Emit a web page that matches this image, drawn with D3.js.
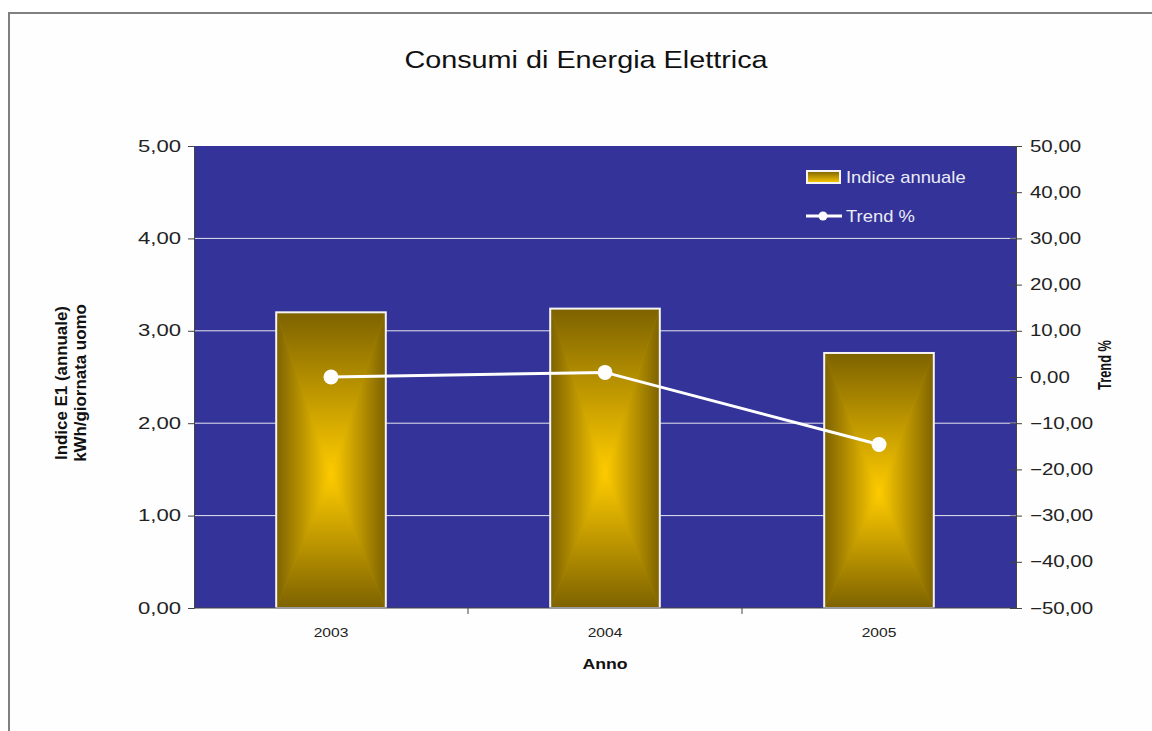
<!DOCTYPE html>
<html>
<head>
<meta charset="utf-8">
<script src="https://cdn.jsdelivr.net/npm/d3@7"></script>
<style>
  html, body { margin: 0; padding: 0; background: #ffffff; }
  svg { display: block; font-family: Arial, "Liberation Sans", sans-serif; }
</style>
</head>
<body>
<svg id="chart" width="1152" height="731"></svg>
<script>
// Annual electricity consumption index and year-on-year trend
const years = ["2003", "2004", "2005"];
const indiceAnnuale = [3.20, 3.24, 2.76];   // kWh / giornata uomo
const trendPct = [0.00, 1.00, -14.60];      // %
const leftTicks = [0, 1, 2, 3, 4, 5];
const rightTicks = [-50, -40, -30, -20, -10, 0, 10, 20, 30, 40, 50];

const svg = d3.select("#chart");
const plot = { left: 194, right: 1016, top: 146, bottom: 608 };
const FONT = "Arial, 'Liberation Sans', sans-serif";

const fmt = v => d3.format(".2f")(v).replace(".", ",");

// text with a wide (horizontally stretched) face
function wideText(parent, x, y, sx, sy, rot) {
  return parent.append("text")
    .attr("transform", `translate(${x},${y})` + (rot ? ` rotate(${rot})` : "") + ` scale(${sx},${sy})`)
    .attr("font-family", FONT);
}

// outer chart frame
svg.append("rect")
  .attr("x", 9).attr("y", 13).attr("width", 1300).attr("height", 900)
  .attr("fill", "#fefefe").attr("stroke", "#808080").attr("stroke-width", 2);

// title
wideText(svg, 586, 68, 1.2, 1)
  .attr("text-anchor", "middle").attr("font-size", 24).attr("fill", "#111")
  .text("Consumi di Energia Elettrica");

const x = d3.scaleBand().domain(years).range([plot.left, plot.right]).paddingInner(0.6).paddingOuter(0.3);
const yL = d3.scaleLinear().domain([0, 5]).range([plot.bottom, plot.top]);
const yR = d3.scaleLinear().domain([-50, 50]).range([plot.bottom, plot.top]);

// plot background
svg.append("rect")
  .attr("x", plot.left).attr("y", plot.top)
  .attr("width", plot.right - plot.left).attr("height", plot.bottom - plot.top)
  .attr("fill", "#333399");

// gridlines
svg.append("g").selectAll("line")
  .data(leftTicks.filter(d => d > 0 && d < 5))
  .join("line")
  .attr("x1", plot.left).attr("x2", plot.right)
  .attr("y1", d => yL(d)).attr("y2", d => yL(d))
  .attr("stroke", "#e6e6f0").attr("stroke-width", 1);

// gradients for the bar fill (rectangular "from center" effect)
const defs = svg.append("defs");
const dark = "#7d6200", bright = "#ffcc00";
function grad(id, x1, y1, x2, y2, c1, c2) {
  const g = defs.append("linearGradient").attr("id", id)
    .attr("x1", x1).attr("y1", y1).attr("x2", x2).attr("y2", y2);
  g.append("stop").attr("offset", "0%").attr("stop-color", c1);
  g.append("stop").attr("offset", "100%").attr("stop-color", c2);
}
grad("gTop", 0, 0, 0, 1, dark, bright);
grad("gBot", 0, 0, 0, 1, bright, dark);
grad("gLeft", 0, 0, 1, 0, dark, bright);
grad("gRight", 0, 0, 1, 0, bright, dark);

const bars = svg.append("g");
years.forEach((yr, i) => {
  const x0 = x(yr), x1 = x(yr) + x.bandwidth();
  const y0 = yL(indiceAnnuale[i]), y1 = yL(0);
  const cx = (x0 + x1) / 2, cy = y0 + (y1 - y0) * 0.55;
  const g = bars.append("g");
  g.append("rect").attr("x", x0).attr("y", y0).attr("width", x1 - x0).attr("height", y1 - y0)
    .attr("fill", "#c9a000");
  const tri = (pts, fill) => g.append("polygon")
    .attr("points", pts.map(p => p.join(",")).join(" "))
    .attr("fill", fill).attr("stroke", fill).attr("stroke-width", 0.4);
  tri([[x0, y0], [x1, y0], [cx, cy]], "url(#gTop)");
  tri([[x0, y1], [x1, y1], [cx, cy]], "url(#gBot)");
  tri([[x0, y0], [cx, cy], [x0, y1]], "url(#gLeft)");
  tri([[x1, y0], [cx, cy], [x1, y1]], "url(#gRight)");
  g.append("rect").attr("x", x0).attr("y", y0).attr("width", x1 - x0).attr("height", y1 - y0)
    .attr("fill", "none").attr("stroke", "#f4f4f4").attr("stroke-width", 2);
});

// trend line
const line = d3.line().x((d, i) => x(years[i]) + x.bandwidth() / 2).y(d => yR(d));
svg.append("path").datum(trendPct)
  .attr("d", line).attr("fill", "none").attr("stroke", "#ffffff").attr("stroke-width", 3);
svg.append("g").selectAll("circle").data(trendPct).join("circle")
  .attr("cx", (d, i) => x(years[i]) + x.bandwidth() / 2)
  .attr("cy", d => yR(d)).attr("r", 7.5).attr("fill", "#ffffff");

// left axis
const sxL = 1.38;
const axL = svg.append("g").attr("transform", `translate(${plot.left},0)`)
  .call(d3.axisLeft(yL).tickValues(leftTicks).tickFormat(fmt).tickSize(6).tickPadding(7));
axL.select(".domain").attr("stroke", "#444");
axL.selectAll(".tick line").attr("stroke", "#444");
axL.selectAll(".tick text")
  .attr("font-size", 16).attr("fill", "#222").attr("font-family", FONT)
  .attr("x", -13 / sxL).attr("transform", `scale(${sxL},1)`);

// right axis (ticks cross the axis line)
const sxR = 1.28;
const axR = svg.append("g").attr("transform", `translate(${plot.right},0)`)
  .call(d3.axisRight(yR).tickValues(rightTicks).tickFormat(fmt).tickSize(6).tickPadding(8));
axR.select(".domain").attr("stroke", "#444");
axR.selectAll(".tick line").attr("stroke", "#444").attr("x1", -6);
axR.selectAll(".tick text")
  .attr("font-size", 16).attr("fill", "#222").attr("font-family", FONT)
  .attr("x", 14 / sxR).attr("transform", `scale(${sxR},1)`);

// bottom axis with category-separator ticks
const bottom = svg.append("g");
bottom.append("line").attr("x1", plot.left).attr("x2", plot.right)
  .attr("y1", plot.bottom).attr("y2", plot.bottom).attr("stroke", "#444");
d3.range(1, years.length).forEach(k => {
  const xb = plot.left + (plot.right - plot.left) * k / years.length;
  bottom.append("line").attr("x1", xb).attr("x2", xb)
    .attr("y1", plot.bottom).attr("y2", plot.bottom + 6).attr("stroke", "#444");
});
years.forEach(d => {
  wideText(bottom, x(d) + x.bandwidth() / 2, 637, 1.2, 1)
    .attr("text-anchor", "middle").attr("font-size", 13).attr("fill", "#222")
    .text(d);
});

// axis titles
wideText(svg, 605, 669, 1.18, 1).attr("text-anchor", "middle")
  .attr("font-size", 15).attr("font-weight", "bold").attr("fill", "#111").text("Anno");

const yt = wideText(svg, 67, 383, 1.3, 1.2, -90)
  .attr("text-anchor", "middle").attr("font-size", 13).attr("font-weight", "bold").attr("fill", "#111");
yt.append("tspan").attr("x", 0).attr("dy", 0).text("Indice E1 (annuale)");
yt.append("tspan").attr("x", 0).attr("dy", 15.5).text("kWh/giornata uomo");

wideText(svg, 1111, 365, 0.92, 1.3, -90)
  .attr("text-anchor", "middle").attr("font-size", 14).attr("font-weight", "bold").attr("fill", "#111")
  .text("Trend %");

// legend
const lg = svg.append("g");
lg.append("rect").attr("x", 807).attr("y", 171).attr("width", 33).attr("height", 12)
  .attr("fill", "url(#gTop)").attr("stroke", "#f4f4f4").attr("stroke-width", 2);
wideText(lg, 846, 183, 1.15, 1).attr("font-size", 16).attr("fill", "#ececf6")
  .text("Indice annuale");
lg.append("line").attr("x1", 806).attr("x2", 842).attr("y1", 216).attr("y2", 216)
  .attr("stroke", "#fff").attr("stroke-width", 3);
lg.append("circle").attr("cx", 823).attr("cy", 216).attr("r", 4.5).attr("fill", "#fff");
wideText(lg, 846, 222, 1.15, 1).attr("font-size", 16).attr("fill", "#ececf6")
  .text("Trend %");
</script>
</body>
</html>
